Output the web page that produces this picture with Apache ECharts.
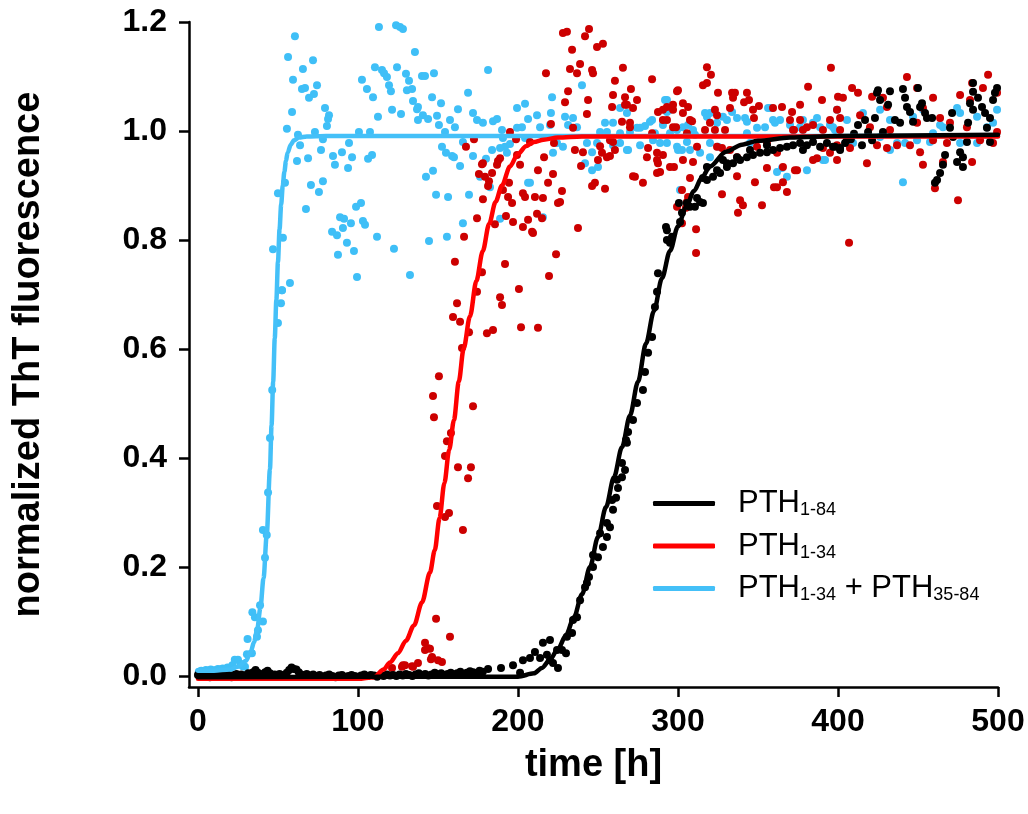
<!DOCTYPE html>
<html>
<head>
<meta charset="utf-8">
<script src="https://cdn.jsdelivr.net/npm/echarts@6/dist/echarts.min.js"></script>
<style>html,body{margin:0;padding:0;background:#fff}#c{width:1028px;height:814px}</style>
</head>
<body>
<div id="c"></div>
<script>
const xTicks = [0, 100, 200, 300, 400, 500];
const yTicks = [0, 0.2, 0.4, 0.6, 0.8, 1.0, 1.2];
const xName = 'time [h]';
const yName = 'normalized ThT fluorescence';
const seriesNames = ['PTH1-84', 'PTH1-34', 'PTH1-34 + PTH35-84'];

// fitted curves
const fitMix = [[0,0.01],[10,0.01],[20,0.012],[25,0.017],[30,0.028],[33,0.045],[35,0.062],[37,0.085],[39,0.125],[41,0.18],[43,0.26],[45,0.38],[46,0.46],[47,0.54],[48,0.62],[49,0.69],[50,0.76],[51,0.82],[52,0.865],[53,0.9],[54,0.925],[55,0.945],[56,0.96],[58,0.975],[60,0.983],[63,0.988],[68,0.99],[80,0.991],[500,0.991]];
const fit134 = [[0,-0.005],[100,-0.005],[110,-0.002],[116,0.012],[120,0.025],[125,0.042],[130,0.065],[135,0.093],[140,0.135],[145,0.19],[148,0.231],[151,0.29],[154,0.354],[157,0.415],[160,0.47],[163,0.54],[166,0.6],[170,0.66],[174,0.725],[178,0.78],[182,0.83],[186,0.87],[190,0.9],[195,0.935],[200,0.958],[205,0.972],[210,0.98],[216,0.984],[225,0.988],[240,0.99],[500,0.99]];
const fit184 = [[0,-0.002],[200,-0.001],[210,0.005],[215,0.015],[220,0.03],[225,0.05],[230,0.075],[235,0.108],[240,0.15],[245,0.2],[250,0.255],[255,0.31],[260,0.365],[265,0.42],[270,0.478],[275,0.54],[280,0.61],[285,0.67],[290,0.73],[295,0.78],[300,0.825],[305,0.86],[310,0.89],[315,0.915],[320,0.935],[330,0.962],[340,0.975],[350,0.982],[370,0.988],[400,0.991],[500,0.993]];

// measured points
const ptsMix = [[0.5,0.008],[2,0.01],[3.5,0.009],[5,0.011],[6.5,0.01],[8,0.012],[9.5,0.01],[11,0.011],[12.5,0.013],[14,0.012],[15.5,0.014],[17,0.013],[18.5,0.016],[20,0.015],[21.5,0.02],[23,0.03],[25,0.03],[26.5,0.022],[28,0.018],[29.4,0.017],[30.6,0.04],[31,0.068],[33.7,0.042],[34,0.117],[35.6,0.108],[36.9,0.072],[37.5,0.084],[38.8,0.13],[40.6,0.1],[41.9,0.217],[40.6,0.268],[43,0.259],[43.8,0.337],[45,0.437],[46.4,0.525],[50,0.648],[51.9,0.684],[52.5,0.708],[57.5,0.721],
[60.6,1.174],[56.3,1.136],[71.9,1.13],[65.6,1.114],[59.4,1.094],[65,1.077],[66.9,1.079],[74.4,1.084],[72.5,1.068],[69.4,1.061],[79.4,1.042],[81.9,1.029],[81.3,1.022],[80.6,1.009],[58.8,1.035],[55.6,1.004],[62.5,0.993],[73.1,0.998],[78.1,0.985],[63.8,0.974],[61.9,0.945],[68.8,0.95],[76.9,0.965],[84.4,0.954],[90,0.961],[94.4,0.978],[96.3,0.952],[85.6,0.938],[93.8,0.932],[54.4,0.905],[50,0.886],[70.6,0.901],[75.6,0.888],[78.1,0.908],[67.5,0.857],[53.1,0.804],[46.9,0.783],[52.5,0.708],
[100.6,0.998],[107.5,0.998],[106.3,0.949],[108.8,0.956],[113.1,1.191],[123.8,1.194],[126.3,1.191],[128.1,1.187],[135.6,1.145],[110.6,1.117],[115,1.112],[116.3,1.106],[118.1,1.099],[124.4,1.117],[130,1.105],[131.9,1.092],[130.6,1.075],[133.8,1.077],[140,1.101],[141.9,1.101],[147.5,1.106],[102.5,1.094],[105.6,1.077],[109.4,1.062],[119.4,1.084],[120.6,1.073],[134.4,1.055],[137.5,1.044],[136.9,1.04],[121.3,1.039],[126.9,1.031],[112.5,1.026],[140.6,1.029],[143.8,1.022],[137.5,1.02],[146.3,1.062],[151.9,1.051],[149.4,1.028],[150.6,1.011],[154.4,0.998],[157.5,1.02],[160.6,1.007],[162.5,1.04],[168.8,1.07],[181.3,1.112],[171.9,1.033],[174.4,1.02],[178.1,1.015],[184.4,1.018],[186.9,1.022],[190,1.002],[199.4,1.042],[204.4,1.05],[199.4,1.006],[202.5,1.007],
[98.8,0.861],[101.9,0.868],[88.8,0.842],[91.3,0.839],[95.6,0.831],[103.1,0.835],[104.4,0.828],[90.6,0.822],[83.8,0.815],[86.9,0.809],[93.1,0.795],[97.5,0.78],[87.5,0.773],[111.9,0.806],[122.5,0.784],[99.4,0.732],[132.5,0.736],[144.4,0.798],[155.6,0.806],[148.8,0.883],[156.3,0.879],[142.5,0.916],[146.9,0.927],[152.5,0.971],[155,0.96],[158.8,0.954],[160,0.952],[163.8,0.936],[171.9,0.954],[183.8,0.965],[180,0.949],[191.9,0.971],[195,0.976],[165.6,0.831],[169.4,0.883],[188.8,0.839],[206.3,0.905],[165.6,0.98],[190.6,0.987],
[211.9,1.029],[206.3,1.022],[221.3,1.062],[220.6,1.033],[229.4,1.026],[234.4,1.024],[240,1.084],[231.3,1.011],[236.9,1.007],[220,1.011],[213.8,1.007],[176.3,0.916],[182.5,0.897],[188.8,0.969],[193.1,0.96],[204.4,0.987],[207.5,0.905],[215.6,0.842],[221.9,0.96],[228.1,0.971],[224.4,0.978],[243.1,0.978],[249.4,0.978],[246.3,0.961],[251.3,0.998],[255.6,0.998],[263.8,1.042],[268.1,1.033],[259.4,1.015],[250,0.934],[246.3,0.928],[241.9,0.941],[263.8,0.996],[270,0.998],[274.4,1.006],[279.4,1.009],[283.8,1.02],[290.6,1.011],[293.1,1.057],[295,1.039],[303.1,1.007],[309.4,1.002],[310.6,0.993],[259.4,0.974],[268.1,0.965],[276.3,0.974],[284.4,0.983],[293.1,0.978],[299.4,0.971],[305.6,0.98],[301.3,0.892],
[254.4,1.015],[263.8,0.978],[268.8,0.965],[276.3,1.006],[282.5,1.017],[285.6,0.996],[288.8,0.978],[293.1,1.035],[299.4,1.002],[300,0.965],[306.3,1.011],[307.5,0.965],[313.8,0.96],[318.1,1.026],[320,1.033],[324.4,1.015],[325,0.971],[330.6,1.02],[333.8,1.035],[336.9,1.024],[343.1,1.017],[343.1,0.996],[349.4,1.006],[354.4,1.007],[357.5,1.042],[359.4,1.02],[363.8,1.02],[365,0.932],[368.1,0.916],[361.9,0.925],[380.6,0.928],[376.3,1.007],[384.4,1.015],[388.8,1.007],[395,1.011],[399.4,1.039],[405.6,1.02],[320,0.952],[391.9,0.947],[291.9,1.057],[295,0.996],[302.5,0.965],[316.9,1.033],[320,0.978],[328.1,1.026],[341.9,1.024],[345,0.978],[356.3,1.042],[360.6,1.015],[370,1.011],[378.1,1.02],[386.9,1.024],[390.6,0.947],[398.1,1.002],[409.4,0.978],[426.3,0.989],[440.6,0.906],[446.9,1.026],[459.4,0.996],[474.4,1.042],[486.9,1.026],[499.4,1.039],[493.1,1.007],[476.3,0.978],[465.6,1.007],[432.5,1.02],[415.6,1.033],[436.9,0.978],[396.9,1.007],[426.3,1.039],[432.5,0.965],[441.9,0.978],[449.4,0.983],[457.5,0.98],[463.8,1.011],[476.3,1.033],[486.9,0.978],[496.9,1.015],[453.1,1.039]];

const pts134 = [[121.3,0.015],[127.5,0.017],[129.4,0.02],[133.8,0.018],[128.1,0.02],[134.4,0.017],[137.5,0.024],[141.9,0.061],[143.8,0.051],[146.3,0.035],[150,0.029],[152.5,0.026],[157.5,0.072],[141.9,0.048],[145,0.05],[145.6,0.031],[148.8,0.105],
[160.6,0.76],[161.9,0.684],[159.4,0.659],[163.8,0.65],[165,0.602],[169.4,0.631],[177.5,0.741],[174.4,0.705],[191.9,0.756],[188.8,0.695],[190,0.681],[180.6,0.629],[184.4,0.635],[200.6,0.71],[201.9,0.64],[212.5,0.639],[219.4,0.734],[223.8,0.774],[150.6,0.55],[146.9,0.514],[147.5,0.475],[171.9,0.495],[158.1,0.446],[155.6,0.431],[154.4,0.404],[162.5,0.383],[170.6,0.383],[168.8,0.363],[149.4,0.312],[156.9,0.299],[154.4,0.292],[165.6,0.268],
[172.5,0.985],[167.5,0.971],[177.5,0.939],[175.6,0.921],[179.4,0.916],[183.8,0.923],[186.9,0.938],[187.5,0.945],[181.9,0.908],[181.3,0.899],[195,0.998],[198.8,0.985],[199.4,0.956],[194.4,0.905],[190.6,0.892],[193.8,0.879],[203.1,0.886],[204.4,0.879],[178.1,0.875],[174.4,0.84],[185.6,0.829],[192.5,0.844],[196.9,0.833],[203.1,0.824],[206.3,0.837],[166.3,0.806],
[228.1,1.18],[230.6,1.182],[241.9,1.174],[244.4,1.187],[249.4,1.154],[253.1,1.16],[233.8,1.149],[238.8,1.123],[232.5,1.114],[236.9,1.106],[246.3,1.112],[246.9,1.106],[217.5,1.106],[231.3,1.073],[229.4,1.053],[243.8,1.057],[243.1,1.031],[234.4,1.006],[220.6,1.013],[240.6,0.961],[235.6,0.965],[239.4,0.936],[216.3,0.952],[212.5,0.928],[221.9,0.921],[218.8,0.905],[227.5,0.89],[226.3,0.87],[225,0.868],[215.6,0.877],[210.6,0.879],[196.3,0.868],[201.3,0.938],[188.8,0.95],[178.1,0.941],[211.9,0.848],[215,0.84],[208.8,0.815],[209.4,0.813],[237.5,0.822],[207.5,0.98],[222.5,0.978],
[251.3,0.972],[252.5,0.96],[255.6,0.952],[257.5,0.954],[250,0.947],[259.4,0.98],[248.1,0.905],[246.3,0.899],[254.4,0.894],[259.4,1.066],[260.6,1.092],[265.6,1.116],[270.6,1.077],[266.9,1.062],[274.4,1.057],[268.1,1.048],[271.9,1.042],[265,1.017],[270,1.015],[270,1.007],[283.8,1.095],[281.3,0.969],[286.9,0.96],[280.6,0.952],[287.5,0.941],[288.8,0.925],[286.9,0.923],[297.5,0.934],[303.1,0.947],[309.4,0.943],[271.9,0.917],[273.1,0.916],[278.1,0.905],[300,1.075],[299.4,1.073],[306.3,1.044],[303.1,1.033],[287.5,1.035],[290.6,1.039],[293.1,1.044],[296.9,1.048],[293.1,1.02],[298.8,1.007],[308.8,1.018],[305.6,0.996],[311.9,0.971],[305.6,0.87],[311.3,0.776],[311.3,0.82],[305,0.859],
[258.8,1.044],[266.9,1.048],[257.5,0.983],[260.6,0.965],[296.9,1.007],[307.5,0.914],[306.3,0.879],[302.5,0.831],[315.6,1.084],[318.1,1.088],[318.1,1.117],[320.6,1.103],[325,1.07],[323.1,1.039],[324.4,1.029],[320,1.015],[316.9,1.002],[323.1,1.002],[329.4,1.002],[327.5,0.969],[332.5,1.042],[333.8,1.07],[335.6,1.07],[334.4,1.061],[343.1,1.07],[344.4,1.057],[341.3,1.053],[346.9,1.039],[350.6,1.046],[347.5,1.024],[327.5,0.884],[336.9,0.917],[338.8,0.873],[340.6,0.864],[337.5,0.85],[348.1,0.906],[352.5,0.864],[359.4,1.042],[360,0.897],[365.6,0.906],[368.1,0.888],[355.6,0.932],[365,1.044],[371.3,1.035],[376.3,1.048],[381.3,1.081],[390,1.057],[395.6,1.116],[400,1.063],[403.1,1.061],[399.4,1.039],[376.3,1.02],[370,1.02],[384.4,1.011],[390.6,1.002],[395,1.02],[401.3,1.002],[399.4,0.947],[395,0.96],[386.9,0.95],[374.4,0.928],[406.9,0.795],[372.5,1.002],[378.1,1.002],
[408.8,1.079],[412.5,1.07],[421.3,1.063],[428.1,1.061],[430.6,1.044],[443.1,1.099],[449.4,1.079],[453.1,1.042],[459.4,1.061],[476.3,1.066],[483.8,1.088],[490.6,1.079],[493.8,1.103],[499.4,1.07],[499.4,0.998],[496.9,0.978],[488.8,0.983],[483.8,0.943],[475,0.873],[460.6,0.895],[453.1,0.938],[468.1,0.978],[459.4,0.983],[445,0.974],[436.9,0.974],[430.6,0.969],[424.4,0.974],[418.1,0.941],[407.5,0.969],[399.4,0.974],[390.6,0.969],[384.4,0.947],[373.1,0.928],[365.6,0.934],[361.9,0.897],[299.4,0.861],[302.5,0.892],[295,0.934],[286.9,0.947],[290.6,0.956],[283.8,0.996],[290.6,1.02],[296.9,1.039],[303.1,1.051],[307.5,1.02],[324.4,0.971],[332.5,0.965],[336.9,0.952],[349.4,0.971],[355.6,0.978],[361.9,0.96],[371.9,1.002],[380.6,1.007],[401.3,1.024],[413.8,1.029],[420,1.007],[432.5,1.002],[449.4,1.015],[463.8,1.024],[470,1.015],[480.6,1.007],[482.5,1.057],[451.3,0.961],[465.6,0.943]];

const pts184 = [[0,0.002],[1.5,-0.001],[3,0.001],[4.5,0.003],[6,0],[7.5,-0.002],[9,0.002],[10.5,0.004],[12,0.001],[13.5,-0.001],[15,0.002],[16.5,0],[18,0.003],[19.5,0.001],[21,-0.002],[22.5,0.002],[24,0.004],[25.5,0.001],[27,0.003],[28.5,0],[30,0.002],[31.5,0.005],[33,0.003],[34.5,0.007],[36,0.011],[37.5,0.006],[39,0.002],[40.5,0.004],[42,0.007],[43.5,0.01],[45,0.005],[46.5,0.002],[48,0.003],[49.5,0.001],[51,0.004],[52.5,0.002],[54,0],[55.5,0.006],[57,0.011],[58.5,0.016],[60,0.013],[61.5,0.012],[63,0.007],[64.5,0.003],[66,0.002],[68,0.004],[70,0.001],[72,0.003],[74,0],[76,0.002],[78,-0.001],[80,0.001],[82,0.003],[84,0],[86,-0.002],[88,0.001],[90,0.002],[92,-0.001],[94,0],[96,0.002],[98,0],[100,-0.001],[102,0.001],[104,0.003],[106,0],[108,0.002],[110,0.001],[112,-0.001],[114,0.002],[116,0],[118,0.003],[120,0.001],[122,0.002],[124,0],[126,0.003],[128,0.001],[130,0.004],[132,0.002],[134,0],[136,0.003],[138,0.005],[140,0.002],[142,0.004],[144,0.001],[146,0.003],[148,0.006],[150,0.003],[152,0.005],[154,0.002],[156,0.004],[158,0.006],[160,0.003],[162,0.005],[164,0.008],[166,0.004],[168,0.006],[170,0.009],[172,0.007],[174,0.005],[176,0.01],[178,0.008],
[181.3,0.013],[189.4,0.015],[196.9,0.02],[201.3,0.006],[203.1,0.029],[207.5,0.033],[210.6,0.044],[213.8,0.033],[218.1,0.039],[220,0.029],[221.9,0.024],[225,0.015],[227.5,0.048],[230,0.042],[230.6,0.072],[233.8,0.079],[236.9,0.108],[238.8,0.139],[241.9,0.163],[244.4,0.182],[246.9,0.2],[250,0.218],[253.1,0.237],[255.6,0.255],[257.5,0.273],[259.4,0.305],[261.3,0.327],[262.5,0.345],[265,0.365],[266.9,0.378],[268.1,0.428],
[224.4,0.048],[220,0.066],[215.6,0.061],[234.4,0.103],[243.1,0.171],[246.9,0.222],[251.3,0.262],[255.6,0.281],[258.8,0.323],[261.9,0.36],[265,0.391],[267.5,0.433],[268.8,0.448],[271.9,0.47],[274.4,0.501],[278.1,0.525],[279.4,0.558],[281.3,0.593],[283.8,0.622],[285.6,0.677],[286.9,0.705],[287.5,0.739],[293.1,0.8],[292.5,0.824],[296.3,0.806],[301.3,0.833],[300.6,0.868],[305.6,0.868],[310.6,0.861],[313.8,0.87],[315.6,0.914],[318.1,0.934],[324.4,0.928],[330.6,0.941],[336.9,0.952],
[293.1,0.818],[295,0.795],[302.5,0.85],[307.5,0.861],[311.9,0.877],[315.6,0.868],[318.1,0.91],[321.9,0.916],[326.3,0.923],[330.6,0.934],[334.4,0.941],[338.8,0.947],[343.1,0.952],[346.9,0.956],[351.3,0.96],[355.6,0.961],[359.4,0.965],[363.8,0.969],[368.1,0.971],[371.9,0.974],[376.3,0.978],[380.6,0.974],[384.4,0.98],[388.8,0.971],[393.1,0.978],[396.9,0.971],[401.3,0.965],[405.6,0.983],[378.1,0.965],[355.6,0.974],[345,0.965],[328.1,0.947],
[425,1.075],[424.4,1.07],[432.5,1.073],[440.6,1.077],[450,1.079],[441.9,1.061],[443.1,1.044],[452.5,1.051],[451.3,1.044],[426.3,1.057],[431.3,1.048],[445,1.035],[454.4,1.033],[458.8,1.024],[455.6,1.024],[416.9,1.02],[423.1,1.024],[428.1,0.998],[435.6,1.02],[438.8,1.015],[446.9,1.017],[412.5,1.011],[418.8,0.998],[421.3,0.983],[415,0.974],[404.4,0.978],[401.3,0.969],[398.1,0.971],[471.3,1.033],[470,1.006],[471.9,0.989],[466.9,0.956],[465.6,0.938],[463.8,0.923],[461.9,0.91],[460.6,0.905],[476.3,0.961],[478.1,0.952],[474.4,0.943],[478.1,0.934],[480.6,0.98],[481.3,1.015],[482.5,1.051],[484.4,1.088],[484.4,1.072],[487.5,1.061],[490,1.044],[491.9,1.033],[495,1.024],[493.1,1.006],[495,0.98],[496.9,1.057],[499.4,1.079],[498.1,1.07],[484.4,1.039],[408,0.985],[410,0.995]];

const colors = { black: '#000000', red: '#ff0000', redDot: '#cc0000', blue: '#44c0f8', blueDot: '#3fbff7' };

const chart = echarts.init(document.getElementById('c'), null, { renderer: 'canvas' });
const FONT = '"Liberation Sans", Arial, Helvetica, sans-serif';

function scatter(name, data, color) {
  return { name, type: 'scatter', data, symbolSize: 8, itemStyle: { color, opacity: 1 }, silent: true };
}
function fitLine(name, data, color) {
  return { name, type: 'line', data, showSymbol: false, symbol: 'none', smooth: 0.3, smoothMonotone: 'x',
    lineStyle: { color, width: 4.5, cap: 'round', join: 'round' }, itemStyle: { color }, silent: true };
}

chart.setOption({
  animation: false,
  backgroundColor: '#ffffff',
  grid: { left: 189, right: 30, top: 22, bottom: 127, containLabel: false },
  xAxis: {
    type: 'value', min: -5.6, max: 500,
    name: xName, nameLocation: 'middle', nameGap: 60,
    nameTextStyle: { fontFamily: FONT, fontWeight: 'bold', fontSize: 38, color: '#000' },
    axisLine: { onZero: false, lineStyle: { color: '#000', width: 2.5 } },
    axisTick: { show: true, inside: false, length: 10, customValues: xTicks, lineStyle: { color: '#000', width: 2.5 } },
    axisLabel: { customValues: xTicks, margin: 19, fontFamily: FONT, fontWeight: 'bold', fontSize: 32, color: '#000' },
    splitLine: { show: false }
  },
  yAxis: {
    type: 'value', min: -0.02, max: 1.2,
    name: yName, nameLocation: 'middle', nameGap: 141, nameRotate: 90,
    nameTextStyle: { fontFamily: FONT, fontWeight: 'bold', fontSize: 38, color: '#000' },
    axisLine: { onZero: false, lineStyle: { color: '#000', width: 2.5 } },
    axisTick: { show: true, inside: false, length: 10, customValues: yTicks, lineStyle: { color: '#000', width: 2.5 } },
    axisLabel: { customValues: yTicks, margin: 22, fontFamily: FONT, fontWeight: 'bold', fontSize: 32, color: '#000',
      formatter: v => v.toFixed(1) },
    splitLine: { show: false }
  },
  legend: {
    data: seriesNames,
    orient: 'vertical', left: 648, top: 483,
    icon: 'roundRect', itemWidth: 62, itemHeight: 5, itemGap: 11,
    selectedMode: false,
    formatter: function (n) {
      if (n === seriesNames[0]) return '{sp|}{a|PTH}{b|1-84}';
      if (n === seriesNames[1]) return '{sp|}{a|PTH}{b|1-34}';
      return '{sp|}{a|PTH}{b|1-34}{a| + PTH}{b|35-84}';
    },
    textStyle: {
      fontFamily: FONT, color: '#000',
      rich: {
        sp: { width: 18 },
        a: { fontFamily: FONT, fontSize: 31, lineHeight: 32, color: '#000' },
        b: { fontFamily: FONT, fontSize: 18, lineHeight: 10, verticalAlign: 'bottom', color: '#000' }
      }
    }
  },
  series: [
    scatter('mix points', ptsMix, colors.blueDot),
    scatter('1-34 points', pts134, colors.redDot),
    scatter('1-84 points', pts184, colors.black),
    fitLine(seriesNames[2], fitMix, colors.blue),
    fitLine(seriesNames[1], fit134, colors.red),
    fitLine(seriesNames[0], fit184, colors.black)
  ]
});
</script>
</body>
</html>
